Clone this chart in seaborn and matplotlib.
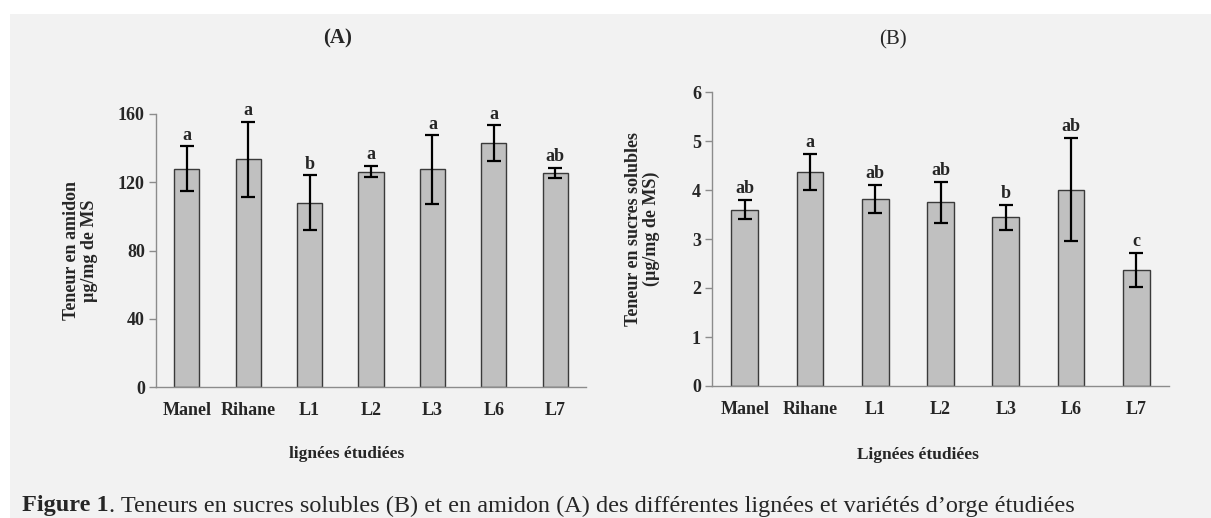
import matplotlib
matplotlib.use("Agg")
import matplotlib.pyplot as plt
import matplotlib.patches as mpatches
import seaborn as sns
import pandas as pd
import numpy as np

categories = ["Manel", "Rihane", "L1", "L2", "L3", "L6", "L7"]
amidon = [128, 133.5, 108, 126.3, 127.5, 142.8, 125.2]
amidon_err = [13, 22, 16, 3.5, 20, 10.5, 3]
amidon_letters = ["a", "a", "b", "a", "a", "a", "ab"]
sucres = [3.60, 4.36, 3.82, 3.75, 3.44, 4.01, 2.37]
sucres_err = [0.20, 0.37, 0.28, 0.42, 0.26, 1.05, 0.35]
sucres_letters = ["ab", "a", "ab", "ab", "b", "ab", "c"]

sns.set_style("white")
plt.rcParams["font.family"] = ["Liberation Serif", "DejaVu Serif"]

W, H = 1211, 518
FS = 13
fig = plt.figure(figsize=(W / 100, H / 100), dpi=100)
fig.patch.set_facecolor("white")
fig.patches.append(mpatches.Rectangle((10 / W, 0), 1, 1 - 14 / H, transform=fig.transFigure,
                                      facecolor="#f2f2f2", edgecolor="none", zorder=-10))

def panel(rect, vals, errs, letters, ymax, yticks, ylabel, ylab_xy, xlabel, xlab_xy):
    ax = fig.add_axes(rect)
    ax.set_facecolor("none")
    df = pd.DataFrame({"cat": categories, "val": vals})
    sns.barplot(data=df, x="cat", y="val", ax=ax, color="#c0c0c0", width=0.41,
                edgecolor="#3a3a3a", linewidth=1.0, saturation=1, errorbar=None)
    ax.errorbar(np.arange(len(vals)), vals, yerr=errs, fmt="none", ecolor="black",
                elinewidth=1.6, capsize=5, capthick=1.6, zorder=5)
    for i, (v, e, l) in enumerate(zip(vals, errs, letters)):
        ax.annotate(l, (i, v + e), xytext=(0, 2), textcoords="offset points",
                    ha="center", va="bottom", fontsize=FS, fontweight="bold",
                    annotation_clip=False)
    ax.set_xlim(-0.5, len(vals) - 0.5)
    ax.set_ylim(0, ymax)
    ax.set_yticks(yticks)
    ax.set_yticklabels([str(t) for t in yticks], fontsize=FS, fontweight="bold")
    ax.set_xticks(np.arange(len(vals)))
    ax.set_xticklabels(categories, fontsize=FS, fontweight="bold")
    ax.set_xticks(np.arange(-0.5, len(vals)), minor=True)
    ax.tick_params(axis="x", which="major", length=0, pad=11)
    ax.tick_params(axis="x", which="minor", length=5, color="#8c8c8c", width=1, direction="out")
    ax.tick_params(axis="y", length=5, color="#8c8c8c", width=1, direction="out", left=True, pad=3)
    for s in ["top", "right"]:
        ax.spines[s].set_visible(False)
    for s in ["left", "bottom"]:
        ax.spines[s].set_color("#8c8c8c")
        ax.spines[s].set_linewidth(1)
    ax.set_ylabel(ylabel, fontsize=FS, fontweight="bold", linespacing=1.05)
    ax.yaxis.set_label_coords(*ylab_xy)
    ax.set_xlabel(xlabel, fontsize=12.5, fontweight="bold")
    ax.xaxis.set_label_coords(*xlab_xy)
    return ax

panel([156 / W, (H - 387) / H, 430 / W, 273 / H], amidon, amidon_err, amidon_letters,
      160, [0, 40, 80, 120, 160], "Teneur en amidon\nµg/mg de MS", (-0.135, 0.5),
      "lignées étudiées", (0.444, -0.216))
panel([712 / W, (H - 386) / H, 457 / W, 294 / H], sucres, sucres_err, sucres_letters,
      6, [0, 1, 2, 3, 4, 5, 6], "Teneur en sucres solubles\n(µg/mg de MS)", (-0.114, 0.534),
      "Lignées étudiées", (0.451, -0.207))

fig.text(338 / W, 1 - 38 / H, "(A)", ha="center", va="center", fontsize=15, fontweight="bold")
fig.text(893 / W, 1 - 40 / H, "(B)", ha="center", va="center", fontsize=15)

cap_y = 1 - 506 / H
t1 = fig.text(22 / W, cap_y, "Figure 1", ha="left", va="center", fontsize=17.5,
              fontweight="bold")
fig.canvas.draw()
bb = t1.get_window_extent()
fig.text(bb.x1 / W, cap_y,
         ". Teneurs en sucres solubles (B) et en amidon (A) des différentes lignées et variétés d\u2019orge étudiées",
         ha="left", va="center", fontsize=17.5)

fig.savefig("out.png", dpi=100, facecolor=fig.get_facecolor())
